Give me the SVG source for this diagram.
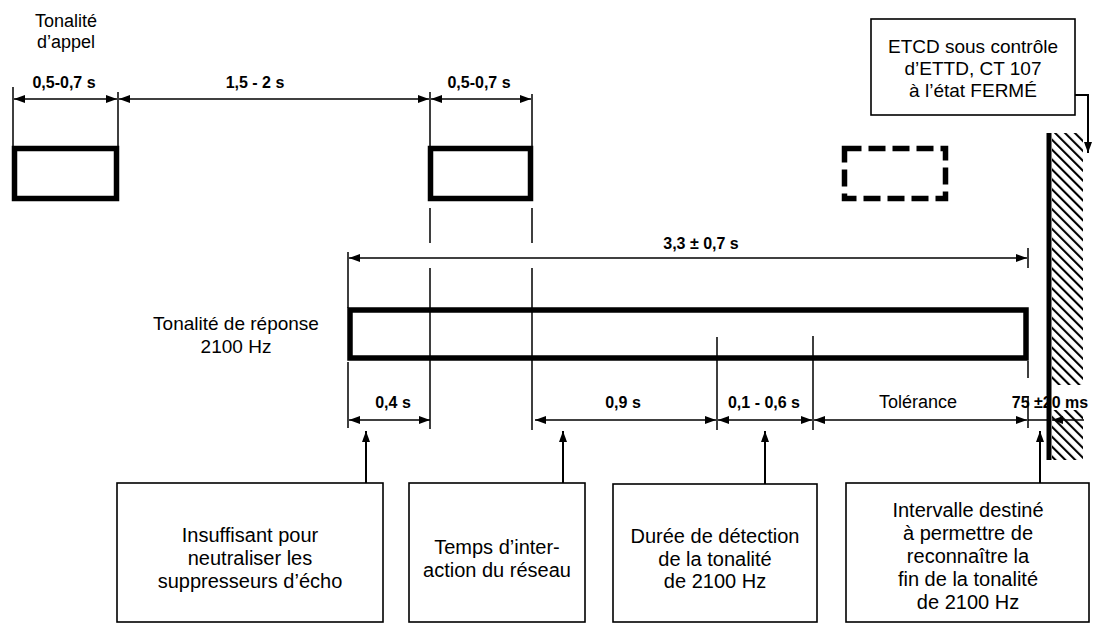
<svg xmlns="http://www.w3.org/2000/svg" width="1093" height="630" viewBox="0 0 1093 630">
<style>
.t{font-family:"Liberation Sans",Arial,sans-serif;fill:#000;text-anchor:middle}
.lbl{font-size:18px}
.box{font-size:20px}
.dim{font-size:16px;font-weight:bold}
.tone{fill:none;stroke:#000;stroke-width:5.5}
.frame{fill:#fff;stroke:#000;stroke-width:1.6}
.ext{stroke:#000;stroke-width:1.5;fill:none}
.dl{stroke:#000;stroke-width:1.5;fill:none;marker-start:url(#ah);marker-end:url(#ah)}
.up{stroke:#000;stroke-width:2;fill:none;marker-end:url(#ah)}
</style>
<defs>
<marker id="ah" viewBox="0 0 11 8" refX="11" refY="4" markerWidth="11" markerHeight="8" markerUnits="userSpaceOnUse" orient="auto-start-reverse"><path d="M0,0 L11,4 L0,8 z" fill="#000"/></marker>
<pattern id="hatch" width="7" height="7" patternUnits="userSpaceOnUse" patternTransform="rotate(-45)"><line x1="1" y1="0" x2="1" y2="7" stroke="#000" stroke-width="2.2"/></pattern>
</defs>
<rect width="1093" height="630" fill="#fff"/>

<g id="label-appel">
<text class="t lbl" x="66" y="27">Tonalité</text>
<text class="t lbl" x="66" y="48">d’appel</text>
</g>

<g id="call-tone-1"><rect class="tone" x="14.5" y="148.5" width="102" height="50"/></g>
<g id="call-tone-2"><rect class="tone" x="430.5" y="148.5" width="100" height="50"/></g>
<g id="call-tone-3"><rect class="tone" x="844.5" y="148.5" width="101" height="50" stroke-dasharray="17 7"/></g>

<g id="label-reponse">
<text class="t" style="font-size:19px" x="236" y="330">Tonalité de réponse</text>
<text class="t" style="font-size:19px" x="236" y="353">2100 Hz</text>
</g>
<g id="answer-tone"><rect class="tone" x="350" y="310" width="676" height="48"/></g>

<g id="etcd-note">
<rect class="frame" x="871" y="19" width="204" height="96"/>
<text class="t" style="font-size:19px" x="973" y="53">ETCD sous contrôle</text>
<text class="t" style="font-size:19px" x="973" y="75">d’ETTD, CT  107</text>
<text class="t" style="font-size:19px" x="973" y="97">à l’état FERMÉ</text>
</g>

<g id="wall">
<line x1="1049" y1="133" x2="1049" y2="460" stroke="#000" stroke-width="5"/>
<rect x="1052" y="133" width="31" height="252" fill="url(#hatch)"/>
<rect x="1052" y="410" width="31" height="50" fill="url(#hatch)"/>
</g>

<g id="box-echo">
<rect class="frame" x="117" y="483" width="266" height="139"/>
<text class="t box" x="250" y="542">Insuffisant pour</text>
<text class="t box" x="250" y="565">neutraliser les</text>
<text class="t box" x="250" y="588">suppresseurs d’écho</text>
</g>
<g id="box-interaction">
<rect class="frame" x="409" y="483" width="176" height="139"/>
<text class="t box" x="497" y="554">Temps d’inter-</text>
<text class="t box" x="497" y="577">action du réseau</text>
</g>
<g id="box-detection">
<rect class="frame" x="613" y="484" width="204" height="138"/>
<text class="t box" x="715" y="543">Durée de détection</text>
<text class="t box" x="715" y="566">de la tonalité</text>
<text class="t box" x="715" y="588">de 2100 Hz</text>
</g>
<g id="box-intervalle">
<rect class="frame" x="846" y="483" width="243" height="139"/>
<text class="t box" x="968" y="517">Intervalle destiné</text>
<text class="t box" x="968" y="540">à permettre de</text>
<text class="t box" x="968" y="563">reconnaître la</text>
<text class="t box" x="968" y="586">fin de la tonalité</text>
<text class="t box" x="968" y="609">de 2100 Hz</text>
</g>

<g id="connectors">
<path class="ext" d="M13,87 V148 M118,92 V148 M430,92 V148 M532,94 V148"/>
<path class="ext" d="M430,208 V243 M532,208 V243 M430,268 V429 M532,268 V430"/>
<path class="ext" d="M348,252 V308 M1028,248 V268"/>
<path class="ext" d="M348,362 V428 M717,337 V430 M813,336 V430 M1028,361 V378 M1028,396 V428"/>
<line class="dl" x1="14" y1="99" x2="117" y2="99"/>
<line class="dl" x1="119" y1="99" x2="429" y2="99"/>
<line class="dl" x1="431" y1="99" x2="531" y2="99"/>
<line class="dl" x1="349" y1="258" x2="1027" y2="258"/>
<line class="dl" x1="349" y1="420" x2="430" y2="420"/>
<line class="dl" x1="535" y1="420" x2="716" y2="420"/>
<line class="dl" x1="718" y1="420" x2="812" y2="420"/>
<line class="dl" x1="814" y1="420" x2="1027" y2="420"/>
<line class="ext" x1="1028" y1="420" x2="1047" y2="420"/>
<line class="ext" x1="1084" y1="420" x2="1052" y2="420" style="marker-end:url(#ah)"/>
<line class="up" x1="366" y1="483" x2="366" y2="431"/>
<line class="up" x1="563" y1="483" x2="563" y2="431"/>
<line class="up" x1="765" y1="484" x2="765" y2="431"/>
<line class="up" x1="1040" y1="483" x2="1040" y2="431"/>
<path class="up" d="M1075,95 H1088 V153"/>
</g>

<g id="dimension-labels">
<text class="t dim" x="64" y="88">0,5-0,7 s</text>
<text class="t dim" x="255" y="88">1,5 - 2 s</text>
<text class="t dim" x="479" y="88">0,5-0,7 s</text>
<text class="t dim" x="701" y="249">3,3 ± 0,7 s</text>
<text class="t dim" x="393" y="408">0,4 s</text>
<text class="t dim" x="623" y="408">0,9 s</text>
<text class="t dim" x="764" y="408">0,1 - 0,6 s</text>
<text class="t lbl" x="918" y="408">Tolérance</text>
<text class="t dim" x="1050" y="408">75 ±20 ms</text>
</g>
</svg>
